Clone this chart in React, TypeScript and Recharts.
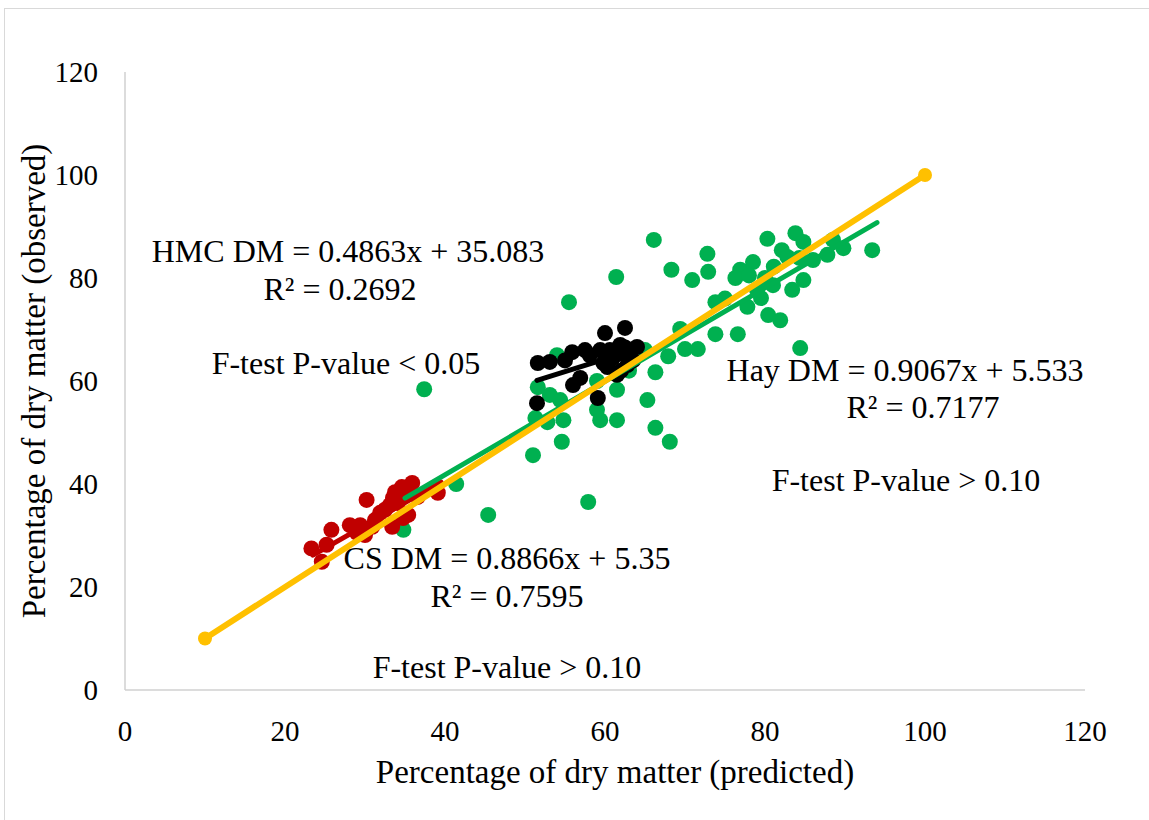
import {
  ScatterChart, Scatter, XAxis, YAxis,
} from 'recharts';

const FONT = '"Liberation Serif", "Times New Roman", serif';
const GREEN = '#00b050';
const RED = '#c00000';
const BLACK = '#000000';
const GOLD = '#ffc000';
const AXIS_GRAY = '#d0d0d0';

const axisTicks = [0, 20, 40, 60, 80, 100, 120];

// Hay: predicted vs observed
const hayPoints = [
  [37.4, 58.4], [41.4, 40.0], [45.4, 34.0], [34.8, 31.1], [57.9, 36.5], [51.0, 45.6],
  [54.6, 48.2], [66.3, 50.9], [68.1, 48.2], [84.4, 66.4], [66.1, 87.4], [68.3, 81.6],
  [61.4, 80.2], [55.5, 75.3], [70.9, 79.6], [72.8, 84.7], [72.9, 81.2], [80.3, 87.6],
  [83.8, 88.7], [82.1, 85.4], [76.9, 81.6], [78.5, 83.1], [76.3, 80.0], [81.0, 78.6],
  [83.4, 77.7], [84.8, 79.6], [86.0, 83.5], [87.8, 84.5], [89.8, 85.8], [93.4, 85.4],
  [88.5, 87.4], [77.8, 74.4], [80.4, 72.8], [81.9, 71.8], [73.8, 75.3], [76.6, 69.1],
  [73.8, 69.1], [70.0, 66.2], [71.6, 66.2], [67.9, 64.8], [69.4, 70.1], [66.3, 61.7],
  [65.3, 56.3], [61.5, 52.4], [61.5, 58.3], [59.4, 52.4], [54.0, 65.0], [51.6, 58.8],
  [53.1, 57.3], [54.4, 56.3], [52.8, 52.0], [54.8, 52.4], [51.3, 52.8], [59.0, 54.4],
  [79.5, 76.1], [82.8, 84.1], [84.3, 83.9], [79.0, 77.7], [84.8, 87.0], [81.1, 82.2],
  [59.0, 60.0], [63.0, 62.0], [65.0, 66.0], [78.0, 80.5], [75.0, 76.0], [80.0, 80.0],
];

// Corn silage
const csPoints = [
  [23.3, 27.5], [25.2, 28.2], [24.6, 24.9], [25.8, 31.1], [28.1, 32.0], [29.4, 32.0],
  [29.0, 30.5], [30.2, 36.9], [30.0, 30.1], [31.9, 34.4], [32.5, 35.0], [31.25, 33.0],
  [33.5, 37.3], [33.75, 38.4], [34.6, 39.4], [35.9, 40.2], [35.25, 38.3], [34.75, 33.4],
  [35.4, 34.0], [39.1, 38.3], [33.1, 35.9], [36.6, 37.5], [34.1, 36.3], [30.9, 31.7],
  [33.4, 31.7],
];

// High-moisture corn
const hmcPoints = [
  [51.6, 63.5], [53.1, 63.7], [55.9, 65.6], [57.5, 66.0], [60.0, 69.3], [62.5, 70.3],
  [59.4, 66.0], [60.6, 66.0], [61.9, 65.4], [64.0, 66.6], [56.9, 60.6], [56.0, 59.2],
  [51.5, 55.7], [59.1, 56.7], [61.5, 61.2], [60.6, 64.1], [62.8, 63.1], [60.3, 62.7],
  [61.9, 67.0], [63.1, 65.0], [58.1, 65.0], [55.0, 64.0], [62.0, 62.0], [63.5, 64.0],
  [59.8, 63.5], [61.0, 64.5], [62.5, 66.5],
];

// 1:1 reference line
const unityLine = [[10, 10], [100, 100]];

// fitted trend lines: [slope, intercept, xStart, xEnd]
const hayFit = [0.9067, 5.533, 35, 94];
const csFit = [0.8866, 5.35, 23.5, 39.5];
const hmcFit = [0.4863, 35.083, 51.5, 64];

const toXY = (pts: number[][]) => pts.map(([x, y]) => ({ x, y }));
const fitLine = ([m, b, x0, x1]: number[]) => [
  { x: x0, y: m * x0 + b },
  { x: x1, y: m * x1 + b },
];

const notes = [
  { text: 'HMC DM = 0.4863x + 35.083', x: 348, y: 251 },
  { text: 'R² = 0.2692', x: 340, y: 289 },
  { text: 'F-test P-value < 0.05', x: 346, y: 363 },
  { text: 'Hay DM = 0.9067x + 5.533', x: 905, y: 370 },
  { text: 'R² = 0.7177', x: 923, y: 407 },
  { text: 'F-test P-value > 0.10', x: 906, y: 480 },
  { text: 'CS DM = 0.8866x + 5.35', x: 507, y: 558 },
  { text: 'R² = 0.7595', x: 507, y: 596 },
  { text: 'F-test P-value > 0.10', x: 507, y: 667 },
];

const DOT_R = 8;
const noDot = () => <g />;
const tickStyle = { fontSize: 29, fill: '#000', fontFamily: FONT };
const titleStyle = { fontSize: 33, fill: '#000', fontFamily: FONT };

export default function App() {
  return (
    <div style={{ position: 'absolute', left: 0, top: 0, width: 1149, height: 820, background: '#fff', overflow: 'hidden' }}>
      <div style={{ position: 'absolute', left: 4, top: 8, width: 1160, height: 830, border: '1px solid #d9d9d9' }} />
      <ScatterChart
        width={1149}
        height={820}
        margin={{ top: 72, right: 64, left: 5, bottom: 30 }}
        style={{ fontFamily: FONT }}
      >
        <XAxis
          type="number"
          dataKey="x"
          domain={[0, 120]}
          ticks={axisTicks}
          tick={tickStyle}
          tickLine={false}
          tickSize={0}
          tickMargin={30}
          axisLine={{ stroke: AXIS_GRAY, strokeWidth: 1.5 }}
          height={100}
          label={{
            value: 'Percentage of dry matter (predicted)',
            position: 'insideBottom',
            offset: 7,
            dx: 10,
            style: titleStyle,
          }}
        />
        <YAxis
          type="number"
          dataKey="y"
          domain={[0, 120]}
          ticks={axisTicks}
          tick={tickStyle}
          tickLine={false}
          tickSize={0}
          tickMargin={27}
          axisLine={{ stroke: AXIS_GRAY, strokeWidth: 1.5 }}
          width={120}
          label={{
            value: 'Percentage of dry matter (observed)',
            angle: -90,
            position: 'insideLeft',
            offset: 28,
            style: { ...titleStyle, textAnchor: 'middle' },
          }}
        />
        <Scatter data={toXY(hayPoints)} fill={GREEN} shape={(p: any) => <circle cx={p.cx} cy={p.cy} r={DOT_R} fill={GREEN} />} isAnimationActive={false} />
        <Scatter data={toXY(csPoints)} fill={RED} shape={(p: any) => <circle cx={p.cx} cy={p.cy} r={DOT_R} fill={RED} />} isAnimationActive={false} />
        <Scatter data={toXY(hmcPoints)} fill={BLACK} shape={(p: any) => <circle cx={p.cx} cy={p.cy} r={DOT_R} fill={BLACK} />} isAnimationActive={false} />
        <Scatter data={fitLine(csFit)} shape={noDot} line={{ stroke: RED, strokeWidth: 5, strokeLinecap: 'round' }} isAnimationActive={false} />
        <Scatter data={fitLine(hmcFit)} shape={noDot} line={{ stroke: BLACK, strokeWidth: 5, strokeLinecap: 'round' }} isAnimationActive={false} />
        <Scatter data={fitLine(hayFit)} shape={noDot} line={{ stroke: GREEN, strokeWidth: 5, strokeLinecap: 'round' }} isAnimationActive={false} />
        <Scatter
          data={toXY(unityLine)}
          fill={GOLD}
          line={{ stroke: GOLD, strokeWidth: 6, strokeLinecap: 'round' }}
          shape={(p: any) => <circle cx={p.cx} cy={p.cy} r={7} fill={GOLD} />}
          isAnimationActive={false}
        />
      </ScatterChart>
      {notes.map((n, i) => (
        <div
          key={i}
          style={{
            position: 'absolute',
            left: n.x,
            top: n.y,
            transform: 'translate(-50%, -50%)',
            whiteSpace: 'nowrap',
            fontFamily: FONT,
            fontSize: 32,
            lineHeight: 1,
            color: '#000',
          }}
        >
          {n.text}
        </div>
      ))}
    </div>
  );
}
